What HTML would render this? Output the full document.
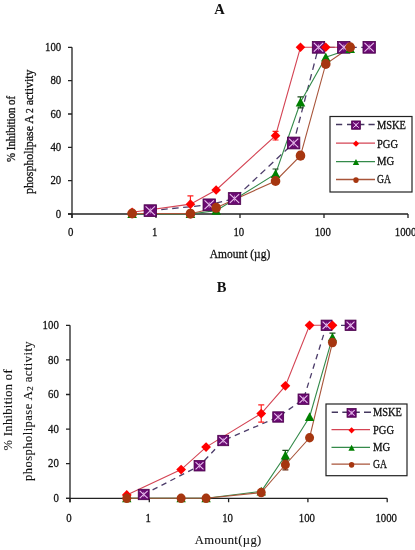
<!DOCTYPE html>
<html><head><meta charset="utf-8"><style>
html,body{margin:0;padding:0;background:#fff;}
svg{display:block;will-change:transform;}
.t{font-family:"Liberation Serif", serif;font-size:12.5px;fill:#111;stroke:#111;stroke-width:0.3px;}
.tb{font-family:"Liberation Serif", serif;font-size:14.5px;font-weight:bold;fill:#111;}
</style></head><body>
<svg width="415" height="550" viewBox="0 0 415 550">
<rect width="415" height="550" fill="#fff"/>
<text x="219.5" y="13.6" text-anchor="middle" class="tb">A</text>
<text x="221.6" y="291.8" text-anchor="middle" class="tb">B</text>
<path d="M72,47.30L72,218.00M68,214.00L408,214.00" stroke="#222" stroke-width="1.3" fill="none"/>
<path d="M68,214.00L72,214.00M68,180.66L72,180.66M68,147.32L72,147.32M68,113.98L72,113.98M68,80.64L72,80.64M68,47.30L72,47.30M72.00,214.00L72.00,218.00M156.00,214.00L156.00,218.00M240.00,214.00L240.00,218.00M324.00,214.00L324.00,218.00M408.00,214.00L408.00,218.00" stroke="#222" stroke-width="1.3" fill="none"/>
<text x="61.2" y="217.70" text-anchor="end" class="t" style="font-size:13.2px" textLength="5.4" lengthAdjust="spacingAndGlyphs">0</text>
<text x="61.2" y="184.36" text-anchor="end" class="t" style="font-size:13.2px" textLength="10.8" lengthAdjust="spacingAndGlyphs">20</text>
<text x="61.2" y="151.02" text-anchor="end" class="t" style="font-size:13.2px" textLength="10.8" lengthAdjust="spacingAndGlyphs">40</text>
<text x="61.2" y="117.68" text-anchor="end" class="t" style="font-size:13.2px" textLength="10.8" lengthAdjust="spacingAndGlyphs">60</text>
<text x="61.2" y="84.34" text-anchor="end" class="t" style="font-size:13.2px" textLength="10.8" lengthAdjust="spacingAndGlyphs">80</text>
<text x="61.2" y="51.00" text-anchor="end" class="t" style="font-size:13.2px" textLength="16.2" lengthAdjust="spacingAndGlyphs">100</text>
<text x="70.80" y="236.3" text-anchor="middle" class="t" style="font-size:13.2px" textLength="5.4" lengthAdjust="spacingAndGlyphs">0</text>
<text x="154.80" y="236.3" text-anchor="middle" class="t" style="font-size:13.2px" textLength="5.4" lengthAdjust="spacingAndGlyphs">1</text>
<text x="238.80" y="236.3" text-anchor="middle" class="t" style="font-size:13.2px" textLength="10.8" lengthAdjust="spacingAndGlyphs">10</text>
<text x="322.80" y="236.3" text-anchor="middle" class="t" style="font-size:13.2px" textLength="16.2" lengthAdjust="spacingAndGlyphs">100</text>
<text x="405.60" y="236.3" text-anchor="middle" class="t" style="font-size:13.2px" textLength="21.6" lengthAdjust="spacingAndGlyphs">1000</text>
<path d="M150.29,210.67L209.21,204.83L234.50,198.50L293.63,142.99L318.50,47.30L343.78,47.30L369.18,47.30" stroke="#4c3c6a" stroke-width="1.3" stroke-dasharray="6.5,4.5" fill="none"/>
<path d="M132.14,212.33L190.43,204.16L216.14,190.00L275.55,135.65L300.49,47.30L325.78,47.30L350.19,47.30" stroke="#d44454" stroke-width="1.1" fill="none"/>
<path d="M132.14,214.00L190.43,214.00L216.14,210.67L275.55,173.99L300.49,102.31L325.78,57.30L350.19,48.97" stroke="#348a4a" stroke-width="1.1" fill="none"/>
<path d="M132.14,213.50L190.43,213.67L216.14,207.83L275.55,180.99L300.49,155.66L325.78,63.97L350.19,47.30" stroke="#a8553a" stroke-width="1.1" fill="none"/>
<path d="M234.50,195.16L234.50,201.83M231.50,195.16L237.50,195.16M231.50,201.83L237.50,201.83" stroke="#4a004a" stroke-width="1.2" fill="none"/>
<path d="M190.43,195.83L190.43,212.50M187.43,195.83L193.43,195.83M187.43,212.50L193.43,212.50" stroke="#ff2020" stroke-width="1.2" fill="none"/>
<path d="M275.55,131.32L275.55,139.99M272.55,131.32L278.55,131.32M272.55,139.99L278.55,139.99" stroke="#ff2020" stroke-width="1.2" fill="none"/>
<path d="M275.55,168.99L275.55,178.99M272.55,168.99L278.55,168.99M272.55,178.99L278.55,178.99" stroke="#1a4a1a" stroke-width="1.2" fill="none"/>
<path d="M300.49,96.81L300.49,107.81M297.49,96.81L303.49,96.81M297.49,107.81L303.49,107.81" stroke="#1a4a1a" stroke-width="1.2" fill="none"/>
<rect x="144.09" y="204.77" width="12.39" height="11.80" fill="#6a0a72" stroke="#4a004a" stroke-width="0.8"/><path d="M145.62,206.30L154.95,215.03M154.95,206.30L145.62,215.03" stroke="#ecc4f0" stroke-width="1.10" fill="none"/><path d="M150.29,207.72L150.29,213.62" stroke="#e0b0e8" stroke-width="0.9" fill="none" opacity="0.7"/>
<rect x="203.02" y="198.93" width="12.39" height="11.80" fill="#6a0a72" stroke="#4a004a" stroke-width="0.8"/><path d="M204.55,200.47L213.87,209.20M213.87,200.47L204.55,209.20" stroke="#ecc4f0" stroke-width="1.10" fill="none"/><path d="M209.21,201.88L209.21,207.78" stroke="#e0b0e8" stroke-width="0.9" fill="none" opacity="0.7"/>
<rect x="228.30" y="192.60" width="12.39" height="11.80" fill="#6a0a72" stroke="#4a004a" stroke-width="0.8"/><path d="M229.84,194.13L239.16,202.86M239.16,194.13L229.84,202.86" stroke="#ecc4f0" stroke-width="1.10" fill="none"/><path d="M234.50,195.55L234.50,201.45" stroke="#e0b0e8" stroke-width="0.9" fill="none" opacity="0.7"/>
<rect x="287.44" y="137.09" width="12.39" height="11.80" fill="#6a0a72" stroke="#4a004a" stroke-width="0.8"/><path d="M288.97,138.62L298.29,147.35M298.29,138.62L288.97,147.35" stroke="#ecc4f0" stroke-width="1.10" fill="none"/><path d="M293.63,140.04L293.63,145.94" stroke="#e0b0e8" stroke-width="0.9" fill="none" opacity="0.7"/>
<rect x="312.30" y="41.40" width="12.39" height="11.80" fill="#6a0a72" stroke="#4a004a" stroke-width="0.8"/><path d="M313.84,42.93L323.16,51.67M323.16,42.93L313.84,51.67" stroke="#ecc4f0" stroke-width="1.10" fill="none"/><path d="M318.50,44.35L318.50,50.25" stroke="#e0b0e8" stroke-width="0.9" fill="none" opacity="0.7"/>
<rect x="337.59" y="41.40" width="12.39" height="11.80" fill="#6a0a72" stroke="#4a004a" stroke-width="0.8"/><path d="M339.12,42.93L348.45,51.67M348.45,42.93L339.12,51.67" stroke="#ecc4f0" stroke-width="1.10" fill="none"/><path d="M343.78,44.35L343.78,50.25" stroke="#e0b0e8" stroke-width="0.9" fill="none" opacity="0.7"/>
<rect x="362.98" y="41.40" width="12.39" height="11.80" fill="#6a0a72" stroke="#4a004a" stroke-width="0.8"/><path d="M364.52,42.93L373.84,51.67M373.84,42.93L364.52,51.67" stroke="#ecc4f0" stroke-width="1.10" fill="none"/><path d="M369.18,44.35L369.18,50.25" stroke="#e0b0e8" stroke-width="0.9" fill="none" opacity="0.7"/>
<path d="M132.14,207.53L136.94,212.33L132.14,217.13L127.34,212.33Z" fill="#ff0000"/>
<path d="M190.43,199.36L195.23,204.16L190.43,208.96L185.63,204.16Z" fill="#ff0000"/>
<path d="M216.14,185.20L220.94,190.00L216.14,194.80L211.34,190.00Z" fill="#ff0000"/>
<path d="M275.55,130.85L280.35,135.65L275.55,140.45L270.75,135.65Z" fill="#ff0000"/>
<path d="M300.49,42.50L305.29,47.30L300.49,52.10L295.69,47.30Z" fill="#ff0000"/>
<path d="M325.78,42.50L330.58,47.30L325.78,52.10L320.98,47.30Z" fill="#ff0000"/>
<path d="M350.19,42.50L354.99,47.30L350.19,52.10L345.39,47.30Z" fill="#ff0000"/>
<path d="M132.14,209.20L136.94,218.08L127.34,218.08Z" fill="#008000"/>
<path d="M190.43,209.20L195.23,218.08L185.63,218.08Z" fill="#008000"/>
<path d="M216.14,205.87L220.94,214.75L211.34,214.75Z" fill="#008000"/>
<path d="M275.55,169.19L280.35,178.07L270.75,178.07Z" fill="#008000"/>
<path d="M300.49,97.51L305.29,106.39L295.69,106.39Z" fill="#008000"/>
<path d="M325.78,52.50L330.58,61.38L320.98,61.38Z" fill="#008000"/>
<path d="M350.19,44.17L354.99,53.05L345.39,53.05Z" fill="#008000"/>
<ellipse cx="132.14" cy="213.50" rx="4.80" ry="5.04" fill="#a63610"/>
<ellipse cx="190.43" cy="213.67" rx="4.80" ry="5.04" fill="#a63610"/>
<ellipse cx="216.14" cy="207.83" rx="4.80" ry="5.04" fill="#a63610"/>
<ellipse cx="275.55" cy="180.99" rx="4.80" ry="5.04" fill="#a63610"/>
<ellipse cx="300.49" cy="155.66" rx="4.80" ry="5.04" fill="#a63610"/>
<ellipse cx="325.78" cy="63.97" rx="4.80" ry="5.04" fill="#a63610"/>
<ellipse cx="350.19" cy="47.30" rx="4.80" ry="5.04" fill="#a63610"/>
<rect x="330" y="116.5" width="82" height="75.5" fill="#fff" stroke="#222" stroke-width="1.2"/>
<path d="M336.0,124.5L342.2,124.5M347.0,124.5L351.8,124.5M360.4,124.5L364.4,124.5M368.5,124.5L374.7,124.5" stroke="#45385f" stroke-width="1.5" fill="none"/>
<rect x="351.64" y="120.95" width="8.72" height="8.30" fill="#6a0a72" stroke="#4a004a" stroke-width="0.8"/><path d="M353.14,122.45L358.86,127.75M358.86,122.45L353.14,127.75" stroke="#ecc4f0" stroke-width="1.00" fill="none"/><path d="M356.00,123.02L356.00,127.17" stroke="#e0b0e8" stroke-width="0.9" fill="none" opacity="0.7"/>
<text x="377" y="128.60" class="t" textLength="29" lengthAdjust="spacingAndGlyphs">MSKE</text>
<path d="M336,143.1L375,143.1" stroke="#d44454" stroke-width="1.3" fill="none"/>
<path d="M356.00,140.60L359.10,143.70L356.00,146.80L352.90,143.70Z" fill="#ff0000"/>
<text x="377" y="147.60" class="t" textLength="21" lengthAdjust="spacingAndGlyphs">PGG</text>
<path d="M336,161.7L375,161.7" stroke="#348a4a" stroke-width="1.3" fill="none"/>
<path d="M356.00,159.10L359.20,165.02L352.80,165.02Z" fill="#008000"/>
<text x="377" y="165.00" class="t" textLength="17.2" lengthAdjust="spacingAndGlyphs">MG</text>
<path d="M336,179.5L375,179.5" stroke="#a8553a" stroke-width="1.3" fill="none"/>
<ellipse cx="356.00" cy="180.10" rx="2.70" ry="2.84" fill="#a63610"/>
<text x="377" y="182.90" class="t" textLength="14" lengthAdjust="spacingAndGlyphs">GA</text>
<path d="M70,325.30L70,502.30M66,498.30L387.2,498.30" stroke="#222" stroke-width="1.3" fill="none"/>
<path d="M66,498.30L70,498.30M66,463.70L70,463.70M66,429.10L70,429.10M66,394.50L70,394.50M66,359.90L70,359.90M66,325.30L70,325.30M70.00,498.30L70.00,502.30M149.30,498.30L149.30,502.30M228.60,498.30L228.60,502.30M307.90,498.30L307.90,502.30M387.20,498.30L387.20,502.30" stroke="#222" stroke-width="1.3" fill="none"/>
<text x="58.8" y="502.00" text-anchor="end" class="t" style="font-size:13.2px" textLength="5.4" lengthAdjust="spacingAndGlyphs">0</text>
<text x="58.8" y="467.40" text-anchor="end" class="t" style="font-size:13.2px" textLength="10.8" lengthAdjust="spacingAndGlyphs">20</text>
<text x="58.8" y="432.80" text-anchor="end" class="t" style="font-size:13.2px" textLength="10.8" lengthAdjust="spacingAndGlyphs">40</text>
<text x="58.8" y="398.20" text-anchor="end" class="t" style="font-size:13.2px" textLength="10.8" lengthAdjust="spacingAndGlyphs">60</text>
<text x="58.8" y="363.60" text-anchor="end" class="t" style="font-size:13.2px" textLength="10.8" lengthAdjust="spacingAndGlyphs">80</text>
<text x="58.8" y="329.00" text-anchor="end" class="t" style="font-size:13.2px" textLength="16.2" lengthAdjust="spacingAndGlyphs">100</text>
<text x="69.00" y="522.0" text-anchor="middle" class="t" style="font-size:13.2px" textLength="5.4" lengthAdjust="spacingAndGlyphs">0</text>
<text x="148.30" y="522.0" text-anchor="middle" class="t" style="font-size:13.2px" textLength="5.4" lengthAdjust="spacingAndGlyphs">1</text>
<text x="227.60" y="522.0" text-anchor="middle" class="t" style="font-size:13.2px" textLength="10.8" lengthAdjust="spacingAndGlyphs">10</text>
<text x="306.90" y="522.0" text-anchor="middle" class="t" style="font-size:13.2px" textLength="16.2" lengthAdjust="spacingAndGlyphs">100</text>
<text x="386.20" y="522.0" text-anchor="middle" class="t" style="font-size:13.2px" textLength="21.6" lengthAdjust="spacingAndGlyphs">1000</text>
<path d="M143.70,494.49L199.53,465.78L223.20,440.52L278.19,416.99L303.50,399.17L326.58,325.30L350.55,325.30" stroke="#4c3c6a" stroke-width="1.3" stroke-dasharray="5.5,4.5" fill="none"/>
<path d="M126.78,495.01L181.13,469.58L206.08,447.09L261.24,413.53L285.38,385.85L309.58,325.30L332.45,325.30" stroke="#d44454" stroke-width="1.1" fill="none"/>
<path d="M126.78,498.30L181.13,498.30L206.08,498.30L261.24,491.38L285.38,455.57L309.58,416.99L332.45,337.41" stroke="#348a4a" stroke-width="1.1" fill="none"/>
<path d="M126.78,498.30L181.13,498.30L206.08,498.30L261.24,492.59L285.38,464.74L309.58,437.75L332.45,342.60" stroke="#a8553a" stroke-width="1.1" fill="none"/>
<path d="M278.19,413.53L278.19,420.45M275.19,413.53L281.19,413.53M275.19,420.45L281.19,420.45" stroke="#4a004a" stroke-width="1.2" fill="none"/>
<path d="M261.24,404.88L261.24,422.18M258.24,404.88L264.24,404.88M258.24,422.18L264.24,422.18" stroke="#ff2020" stroke-width="1.2" fill="none"/>
<path d="M285.38,450.38L285.38,460.76M282.38,450.38L288.38,450.38M282.38,460.76L288.38,460.76" stroke="#1a4a1a" stroke-width="1.2" fill="none"/>
<path d="M332.45,333.09L332.45,341.74M329.45,333.09L335.45,333.09M329.45,341.74L335.45,341.74" stroke="#1a4a1a" stroke-width="1.2" fill="none"/>
<path d="M285.38,459.55L285.38,469.93M282.38,459.55L288.38,459.55M282.38,469.93L288.38,469.93" stroke="#6a2a10" stroke-width="1.2" fill="none"/>
<rect x="138.24" y="489.29" width="10.92" height="10.40" fill="#6a0a72" stroke="#4a004a" stroke-width="0.8"/><path d="M139.74,490.79L147.66,498.19M147.66,490.79L139.74,498.19" stroke="#ecc4f0" stroke-width="1.06" fill="none"/><path d="M143.70,491.89L143.70,497.09" stroke="#e0b0e8" stroke-width="0.9" fill="none" opacity="0.7"/>
<rect x="194.07" y="460.58" width="10.92" height="10.40" fill="#6a0a72" stroke="#4a004a" stroke-width="0.8"/><path d="M195.57,462.08L203.49,469.48M203.49,462.08L195.57,469.48" stroke="#ecc4f0" stroke-width="1.06" fill="none"/><path d="M199.53,463.18L199.53,468.38" stroke="#e0b0e8" stroke-width="0.9" fill="none" opacity="0.7"/>
<rect x="217.74" y="435.32" width="10.92" height="10.40" fill="#6a0a72" stroke="#4a004a" stroke-width="0.8"/><path d="M219.24,436.82L227.16,444.22M227.16,436.82L219.24,444.22" stroke="#ecc4f0" stroke-width="1.06" fill="none"/><path d="M223.20,437.92L223.20,443.12" stroke="#e0b0e8" stroke-width="0.9" fill="none" opacity="0.7"/>
<rect x="272.73" y="411.79" width="10.92" height="10.40" fill="#6a0a72" stroke="#4a004a" stroke-width="0.8"/><path d="M274.23,413.29L282.15,420.69M282.15,413.29L274.23,420.69" stroke="#ecc4f0" stroke-width="1.06" fill="none"/><path d="M278.19,414.39L278.19,419.59" stroke="#e0b0e8" stroke-width="0.9" fill="none" opacity="0.7"/>
<rect x="298.04" y="393.97" width="10.92" height="10.40" fill="#6a0a72" stroke="#4a004a" stroke-width="0.8"/><path d="M299.54,395.47L307.46,402.87M307.46,395.47L299.54,402.87" stroke="#ecc4f0" stroke-width="1.06" fill="none"/><path d="M303.50,396.57L303.50,401.77" stroke="#e0b0e8" stroke-width="0.9" fill="none" opacity="0.7"/>
<rect x="321.12" y="320.10" width="10.92" height="10.40" fill="#6a0a72" stroke="#4a004a" stroke-width="0.8"/><path d="M322.62,321.60L330.54,329.00M330.54,321.60L322.62,329.00" stroke="#ecc4f0" stroke-width="1.06" fill="none"/><path d="M326.58,322.70L326.58,327.90" stroke="#e0b0e8" stroke-width="0.9" fill="none" opacity="0.7"/>
<rect x="345.09" y="320.10" width="10.92" height="10.40" fill="#6a0a72" stroke="#4a004a" stroke-width="0.8"/><path d="M346.59,321.60L354.51,329.00M354.51,321.60L346.59,329.00" stroke="#ecc4f0" stroke-width="1.06" fill="none"/><path d="M350.55,322.70L350.55,327.90" stroke="#e0b0e8" stroke-width="0.9" fill="none" opacity="0.7"/>
<path d="M126.78,490.11L131.68,495.01L126.78,499.91L121.88,495.01Z" fill="#ff0000"/>
<path d="M181.13,464.68L186.03,469.58L181.13,474.48L176.23,469.58Z" fill="#ff0000"/>
<path d="M206.08,442.19L210.98,447.09L206.08,451.99L201.18,447.09Z" fill="#ff0000"/>
<path d="M261.24,408.63L266.14,413.53L261.24,418.43L256.34,413.53Z" fill="#ff0000"/>
<path d="M285.38,380.95L290.28,385.85L285.38,390.75L280.48,385.85Z" fill="#ff0000"/>
<path d="M309.58,320.40L314.48,325.30L309.58,330.20L304.68,325.30Z" fill="#ff0000"/>
<path d="M332.45,320.40L337.35,325.30L332.45,330.20L327.55,325.30Z" fill="#ff0000"/>
<path d="M126.78,493.60L131.48,502.30L122.08,502.30Z" fill="#008000"/>
<path d="M181.13,493.60L185.83,502.30L176.43,502.30Z" fill="#008000"/>
<path d="M206.08,493.60L210.78,502.30L201.38,502.30Z" fill="#008000"/>
<path d="M261.24,486.68L265.94,495.38L256.54,495.38Z" fill="#008000"/>
<path d="M285.38,450.87L290.08,459.56L280.68,459.56Z" fill="#008000"/>
<path d="M309.58,412.29L314.28,420.99L304.88,420.99Z" fill="#008000"/>
<path d="M332.45,332.71L337.15,341.41L327.75,341.41Z" fill="#008000"/>
<ellipse cx="126.78" cy="498.30" rx="4.50" ry="4.73" fill="#a63610"/>
<ellipse cx="181.13" cy="498.30" rx="4.50" ry="4.73" fill="#a63610"/>
<ellipse cx="206.08" cy="498.30" rx="4.50" ry="4.73" fill="#a63610"/>
<ellipse cx="261.24" cy="492.59" rx="4.50" ry="4.73" fill="#a63610"/>
<ellipse cx="285.38" cy="464.74" rx="4.50" ry="4.73" fill="#a63610"/>
<ellipse cx="309.58" cy="437.75" rx="4.50" ry="4.73" fill="#a63610"/>
<ellipse cx="332.45" cy="342.60" rx="4.50" ry="4.73" fill="#a63610"/>
<rect x="326" y="404" width="81" height="71.69999999999999" fill="#fff" stroke="#222" stroke-width="1.2"/>
<path d="M331.7,412.3L338.0,412.3M342.3,412.3L347.2,412.3M356.0,412.3L359.8,412.3M364.0,412.3L371.0,412.3" stroke="#45385f" stroke-width="1.5" fill="none"/>
<rect x="347.03" y="408.55" width="9.13" height="8.70" fill="#6a0a72" stroke="#4a004a" stroke-width="0.8"/><path d="M348.53,410.05L354.67,415.75M354.67,410.05L348.53,415.75" stroke="#ecc4f0" stroke-width="1.01" fill="none"/><path d="M351.60,410.73L351.60,415.07" stroke="#e0b0e8" stroke-width="0.9" fill="none" opacity="0.7"/>
<text x="373" y="416.40" class="t" textLength="29" lengthAdjust="spacingAndGlyphs">MSKE</text>
<path d="M331.5,429.7L370,429.7" stroke="#d44454" stroke-width="1.3" fill="none"/>
<path d="M351.60,427.20L354.70,430.30L351.60,433.40L348.50,430.30Z" fill="#ff0000"/>
<text x="373" y="433.80" class="t" textLength="21" lengthAdjust="spacingAndGlyphs">PGG</text>
<path d="M331.5,447.4L370,447.4" stroke="#348a4a" stroke-width="1.3" fill="none"/>
<path d="M351.60,444.80L354.80,450.72L348.40,450.72Z" fill="#008000"/>
<text x="373" y="450.80" class="t" textLength="17.2" lengthAdjust="spacingAndGlyphs">MG</text>
<path d="M331.5,464.2L370,464.2" stroke="#a8553a" stroke-width="1.3" fill="none"/>
<ellipse cx="351.60" cy="464.80" rx="2.70" ry="2.84" fill="#a63610"/>
<text x="373" y="468.30" class="t" textLength="14" lengthAdjust="spacingAndGlyphs">GA</text>
<text x="240" y="258.4" text-anchor="middle" class="t" style="font-size:13px" textLength="60.5" lengthAdjust="spacingAndGlyphs">Amount (µg)</text>
<text transform="translate(15.3,128.9) rotate(-90)" text-anchor="middle" class="t" style="font-size:12.5px" textLength="66" lengthAdjust="spacingAndGlyphs">% Inhibition of</text>
<text transform="translate(33.3,131.8) rotate(-90)" text-anchor="middle" class="t" style="font-size:12.5px" textLength="124.5" lengthAdjust="spacingAndGlyphs">phospholipase A <tspan font-size="10">2</tspan> activity</text>
<text x="228" y="544" text-anchor="middle" class="t" style="font-size:12.6px;stroke-width:0.12px" textLength="66.5" lengthAdjust="spacing">Amount(µg)</text>
<text transform="translate(12.1,409.9) rotate(-90)" text-anchor="middle" class="t" style="font-size:12.5px;stroke-width:0.1px" textLength="81" lengthAdjust="spacing">% Inhibition of</text>
<text transform="translate(31.8,411.2) rotate(-90)" text-anchor="middle" class="t" style="font-size:12.5px;stroke-width:0.1px" textLength="139.6" lengthAdjust="spacing">phospholipase A<tspan font-size="9" dy="1">2</tspan><tspan dy="-1"> activity</tspan></text>
</svg>
</body></html>
